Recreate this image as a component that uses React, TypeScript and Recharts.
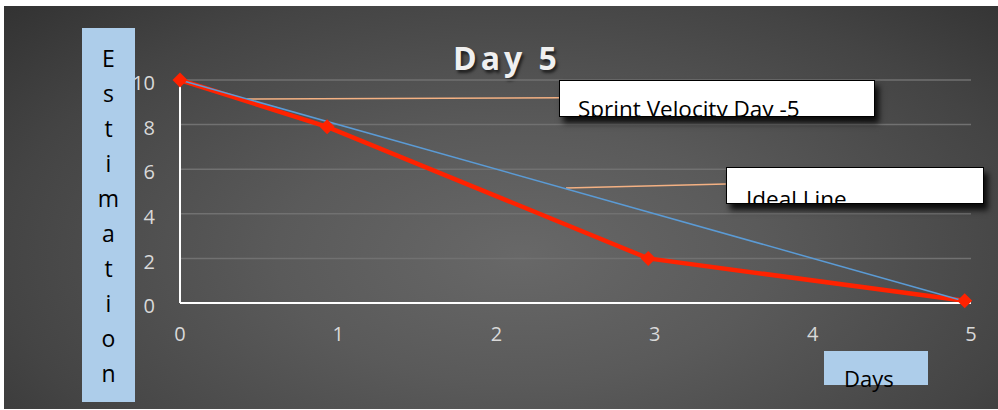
import React from "react"
import { CartesianGrid, Line, LineChart, ReferenceLine, XAxis, YAxis } from "recharts"

// sprint burndown, day 5
const days = [0, 0.93, 2.96, 4.96]
const remaining = [10, 7.9, 2, 0.1]
const idealDays = [0, 5]
const idealRemaining = [10, 0]
const xTicks = [0, 1, 2, 3, 4, 5]
const yTicks = [0, 2, 4, 6, 8, 10]

// callout leader lines, in data units
const velocityLeader = [
  { x: 0.35, y: 9.15 },
  { x: 2.4, y: 9.2 },
]
const idealLeader = [
  { x: 2.44, y: 5.16 },
  { x: 3.45, y: 5.34 },
]

const sprint = days.map((d, i) => ({ x: d, y: remaining[i] }))
const ideal = idealDays.map((d, i) => ({ x: d, y: idealRemaining[i] }))

const font = "'Open Sans', 'Noto Sans', sans-serif"

const Diamond = (props: any) => {
  const { cx, cy } = props
  if (cx == null || cy == null) return null
  const r = 7.5
  return (
    <path
      d={`M${cx},${cy - r} L${cx + r},${cy} L${cx},${cy + r} L${cx - r},${cy} Z`}
      fill="#ff2200"
    />
  )
}

const calloutBox: React.CSSProperties = {
  position: "absolute",
  background: "#ffffff",
  border: "1px solid #000",
  boxShadow: "4px 6px 6px rgba(0,0,0,0.85)",
  overflow: "hidden",
  boxSizing: "border-box",
  fontFamily: font,
  color: "#000",
  whiteSpace: "nowrap",
}

export default function App() {
  return (
    <div style={{ position: "absolute", left: 0, top: 0, width: 998, height: 410, background: "#fff" }}>
      <div
        style={{
          position: "absolute",
          left: 4,
          top: 6,
          width: 994,
          height: 403,
          background:
            "radial-gradient(ellipse 70% 90% at 52% 62%, #686868 0%, #5a5a5a 35%, #444 75%, #333 100%)",
        }}
      />
      <div
        style={{
          position: "absolute",
          left: 0,
          top: 36,
          width: 1014,
          textAlign: "center",
          fontFamily: font,
          fontWeight: 700,
          fontSize: 32,
          letterSpacing: 4,
          color: "#f0f0f0",
          textShadow: "2px 3px 3px rgba(0,0,0,0.6)",
        }}
      >
        Day 5
      </div>
      <div style={{ position: "absolute", left: 0, top: 0 }}>
        <LineChart width={998} height={410} margin={{ top: 80, right: 27, bottom: 77, left: 120 }}>
          <CartesianGrid vertical={false} stroke="#717171" strokeWidth={1.5} />
          <XAxis
            type="number"
            dataKey="x"
            domain={[0, 5]}
            ticks={xTicks}
            height={30}
            tickLine={false}
            tickMargin={18}
            axisLine={{ stroke: "#ffffff", strokeWidth: 2 }}
            tick={{ fill: "#d9d9d9", fontSize: 20, fontFamily: font }}
          />
          <YAxis
            type="number"
            dataKey="y"
            domain={[0, 10]}
            ticks={yTicks}
            width={60}
            tickLine={false}
            tickMargin={19}
            axisLine={{ stroke: "#ffffff", strokeWidth: 2 }}
            tick={{ fill: "#d9d9d9", fontSize: 20, fontFamily: font, dy: 3 }}
          />
          <ReferenceLine segment={velocityLeader} stroke="#f4b183" strokeWidth={1.5} ifOverflow="visible" />
          <ReferenceLine segment={idealLeader} stroke="#f4b183" strokeWidth={1.5} ifOverflow="visible" />
          <Line
            data={sprint}
            dataKey="y"
            stroke="#ff2200"
            strokeWidth={4.5}
            dot={<Diamond />}
            activeDot={false}
            isAnimationActive={false}
          />
          <Line
            data={ideal}
            dataKey="y"
            stroke="#5b9bd5"
            strokeWidth={1.5}
            dot={false}
            activeDot={false}
            isAnimationActive={false}
          />
        </LineChart>
      </div>
      <div style={{ ...calloutBox, left: 559, top: 80, width: 316, height: 37 }}>
        <div style={{ position: "absolute", left: 18, top: 13, fontSize: 22.5, lineHeight: "30px" }}>
          Sprint Velocity Day -5
        </div>
      </div>
      <div style={{ ...calloutBox, left: 726, top: 167, width: 258, height: 37 }}>
        <div style={{ position: "absolute", left: 19, top: 16, fontSize: 22.5, lineHeight: "30px" }}>
          Ideal Line
        </div>
      </div>
      <div
        style={{
          position: "absolute",
          left: 82,
          top: 28,
          width: 53,
          height: 374,
          background: "#adcdea",
          fontFamily: font,
          fontSize: 23,
          color: "#000",
        }}
      >
        {"Estimation".split("").map((ch, i) => (
          <div
            key={i}
            style={{
              position: "absolute",
              left: 0,
              width: 53,
              top: 13 + i * 35,
              height: 35,
              lineHeight: "35px",
              textAlign: "center",
            }}
          >
            {ch}
          </div>
        ))}
      </div>
      <div
        style={{
          position: "absolute",
          left: 824,
          top: 351,
          width: 104,
          height: 34,
          background: "#adcdea",
        }}
      >
        <div
          style={{
            position: "absolute",
            left: 20,
            top: 12,
            fontFamily: font,
            fontSize: 22,
            lineHeight: "30px",
            color: "#000",
          }}
        >
          Days
        </div>
      </div>
    </div>
  )
}
